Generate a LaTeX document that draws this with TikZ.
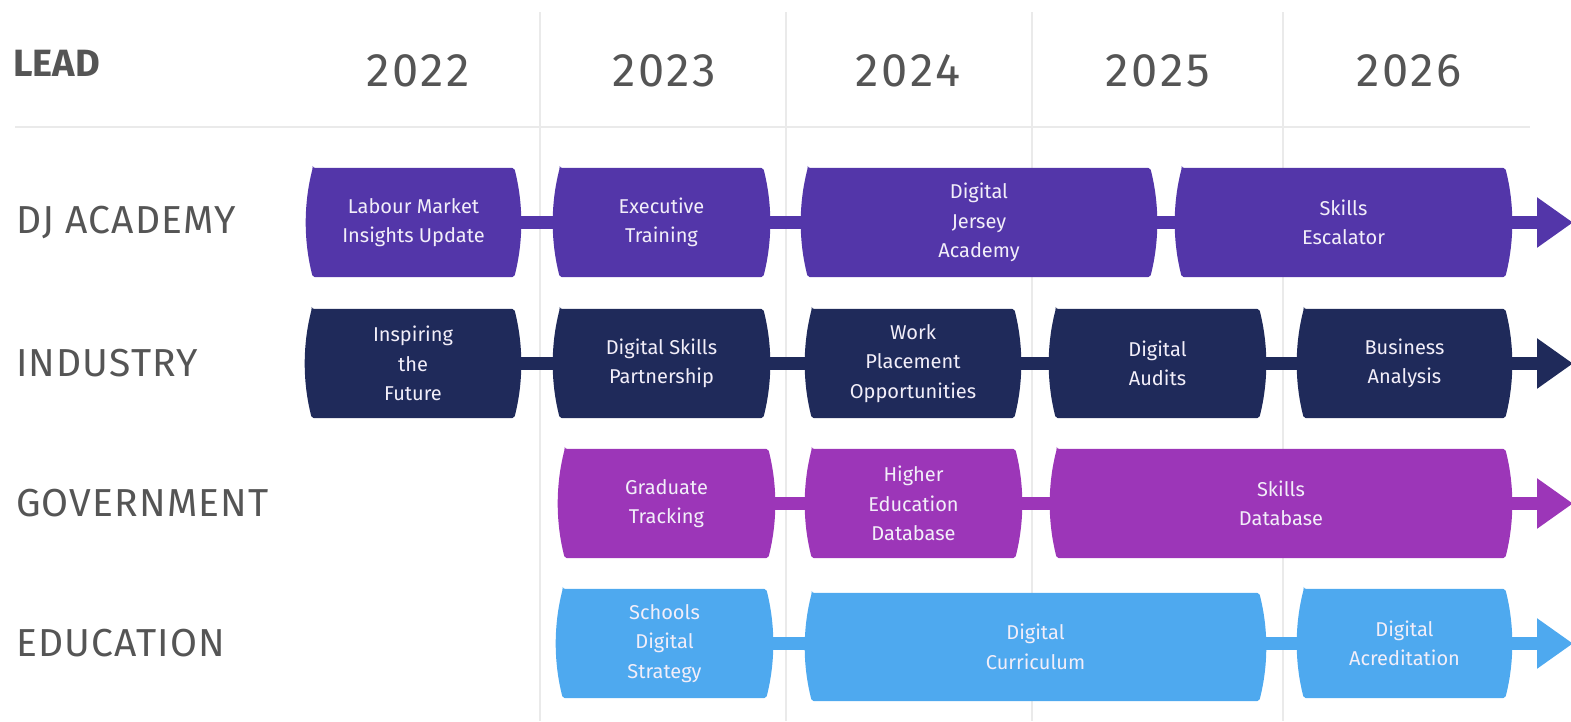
\documentclass[tikz,border=0pt]{standalone}
\usepackage{fontspec}
\setmainfont{Fira Sans}
\usetikzlibrary{arrows.meta,backgrounds}

\definecolor{academy}{HTML}{5336A9}
\definecolor{industry}{HTML}{1F2A5A}
\definecolor{government}{HTML}{9C36B8}
\definecolor{education}{HTML}{4EA9EF}
\definecolor{labelgray}{HTML}{555555}
\definecolor{gridgray}{HTML}{EAEAEA}
\definecolor{stagetext}{HTML}{F2EEF9}

\tikzset{
	lane/.style={anchor=west, inner sep=0pt, text=labelgray, font=\fontsize{39}{39}\selectfont\addfontfeature{LetterSpace=3}},
	year/.style={inner sep=0pt, text=labelgray, font=\fontsize{47}{47}\selectfont\addfontfeature{LetterSpace=6}},
	stage/.style={inner sep=0pt, align=center, text=stagetext, minimum height=109pt, font=\fontsize{20}{29.5}\selectfont},
	link/.style={line width=13pt, #1},
	gridline/.style={line width=2pt, gridgray},
	tip/.style={-{Triangle[length=36pt,width=48pt]}}
}

% barrel shaped background of a stage node
\newcommand\stagefill[2]{
	\fill[#2, rounded corners=2pt] ([xshift=7pt]#1.north west) -- ([xshift=-7pt]#1.north east)
		.. controls ([xshift=2.3pt,yshift=-36pt]#1.north east) and ([xshift=2.3pt,yshift=36pt]#1.south east) .. ([xshift=-7pt]#1.south east)
		-- ([xshift=7pt]#1.south west)
		.. controls ([xshift=-2.3pt,yshift=36pt]#1.south west) and ([xshift=-2.3pt,yshift=-36pt]#1.north west) .. cycle;
}

\begin{document}
\begin{tikzpicture}[x=1pt,y=-1pt]
	\useasboundingbox (0,0) rectangle (1571,721);

	% headings
	\node[anchor=west, inner sep=0pt, text=labelgray, font=\fontsize{38}{38}\selectfont\bfseries] (lead) at (13,63.5) {LEAD};
	\node[year] (y2022) at (418,70.5) {2022};
	\node[year] (y2023) at (664,70.5) {2023};
	\node[year] (y2024) at (908,70.5) {2024};
	\node[year] (y2025) at (1158,70.5) {2025};
	\node[year] (y2026) at (1409,70.5) {2026};

	\node[lane] (academy) at (16,222.5) {DJ ACADEMY};
	\node[lane] (industry) at (16,363.5) {INDUSTRY};
	\node[lane] (government) at (16,503.5) {GOVERNMENT};
	\node[lane] (education) at (16,643.5) {EDUCATION};

	% DJ academy
	\node[stage, minimum width=215pt] (lmi) at (413.5,222.5) {Labour Market\\Insights Update};
	\node[stage, minimum width=217pt] (exe) at (661.5,222.5) {Executive\\Training};
	\node[stage, minimum width=356pt] (dja) at (979,222.5) {Digital\\Jersey\\Academy};
	\node[stage, minimum width=337pt] (esc) at (1343.5,222.5) {Skills\\Escalator};
	\coordinate (academyend) at (1573,222.5);

	% industry
	\node[stage, minimum width=216pt] (itf) at (413,363.5) {Inspiring\\the\\Future};
	\node[stage, minimum width=217pt] (dsp) at (661.5,363.5) {Digital Skills\\Partnership};
	\node[stage, minimum width=216pt] (wpo) at (913,363.5) {Work\\Placement\\Opportunities};
	\node[stage, minimum width=217pt] (dau) at (1157.5,363.5) {Digital\\Audits};
	\node[stage, minimum width=215pt] (bus) at (1404.5,363.5) {Business\\Analysis};
	\coordinate (industryend) at (1573,363.5);

	% government
	\node[stage, minimum width=217pt] (gtr) at (666.5,503.5) {Graduate\\Tracking};
	\node[stage, minimum width=217pt] (hed) at (913.5,503.5) {Higher\\Education\\Database};
	\node[stage, minimum width=462pt] (sdb) at (1281,503.5) {Skills\\Database};
	\coordinate (governmentend) at (1573,503.5);

	% education
	\node[stage, minimum width=217pt] (sds) at (664.5,643.5) {Schools\\Digital\\Strategy};
	\node[stage, minimum width=461pt, minimum height=108pt] (dcu) at (1035.5,647) {Digital\\Curriculum};
	\node[stage, minimum width=215pt] (dac) at (1404.5,643.5) {Digital\\Acreditation};
	\coordinate (educationend) at (1573,643.5);

	\begin{scope}[on background layer]
		\draw[gridline] (15,127) -- (1530,127);
		\draw[gridline] (540,12) -- (540,721);
		\draw[gridline] (786,12) -- (786,721);
		\draw[gridline] (1032,12) -- (1032,721);
		\draw[gridline] (1283,12) -- (1283,721);

		\draw[link=academy] (lmi.center) -- (exe.center) -- (dja.center) -- (esc.center);
		\draw[link=academy, tip] (esc.center) -- (academyend);
		\draw[link=industry] (itf.center) -- (dsp.center) -- (wpo.center) -- (dau.center) -- (bus.center);
		\draw[link=industry, tip] (bus.center) -- (industryend);
		\draw[link=government] (gtr.center) -- (hed.center) -- (sdb.center);
		\draw[link=government, tip] (sdb.center) -- (governmentend);
		\draw[link=education] (sds.center) -- (sds.center -| dcu.west) -- (dac.center);
		\draw[link=education, tip] (dac.center) -- (educationend);

		\stagefill{lmi}{academy}
		\stagefill{exe}{academy}
		\stagefill{dja}{academy}
		\stagefill{esc}{academy}
		\stagefill{itf}{industry}
		\stagefill{dsp}{industry}
		\stagefill{wpo}{industry}
		\stagefill{dau}{industry}
		\stagefill{bus}{industry}
		\stagefill{gtr}{government}
		\stagefill{hed}{government}
		\stagefill{sdb}{government}
		\stagefill{sds}{education}
		\stagefill{dcu}{education}
		\stagefill{dac}{education}
	\end{scope}
\end{tikzpicture}
\end{document}
